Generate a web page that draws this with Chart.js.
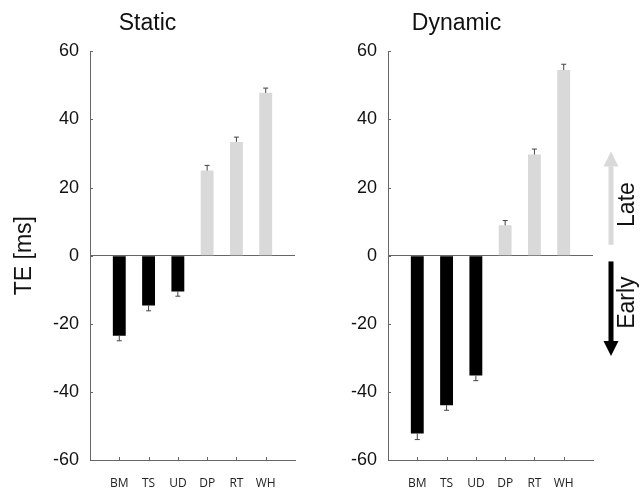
<!DOCTYPE html>
<html>
<head>
<meta charset="utf-8">
<script src="https://cdn.jsdelivr.net/npm/chart.js@4.4.1/dist/chart.umd.min.js"></script>
<style>
  body { margin: 0; background: #fff; }
  #wrap { position: relative; width: 641px; height: 490px; }
  .box { position: absolute; top: 0; height: 490px; }
</style>
</head>
<body>
<div id="wrap">
  <div class="box" style="left:0;width:320px"><canvas id="chart-static"></canvas></div>
  <div class="box" style="left:320px;width:321px"><canvas id="chart-dynamic"></canvas></div>
</div>
<script>
// data
var categories = ['BM', 'TS', 'UD', 'DP', 'RT', 'WH'];
var staticValues = [-23.5, -14.6, -10.5, 25.0, 33.4, 47.8];
var staticErrors = [1.5, 1.6, 1.4, 1.5, 1.4, 1.4];
var dynamicValues = [-52.2, -43.9, -35.2, 8.9, 29.7, 54.5];
var dynamicErrors = [1.8, 1.5, 1.5, 1.4, 1.6, 1.7];
var yTicks = [-60, -40, -20, 0, 20, 40, 60];
// arrow annotation (y values)
var lateArrow = [3.2, 30.6];
var earlyArrow = [-1.7, -29.5];

var axisColor = '#666';
var sans = "'Liberation Sans', Arial, sans-serif";

// empty slots at both ends so the category spacing matches the figure
var labels = [''].concat(categories, ['']);
function pad(arr) { return [null].concat(arr, [null]); }
function barColors() {
  return labels.map(function (l, i) { return i >= 1 && i <= 3 ? '#000' : '#d9d9d9'; });
}

// error bars (outward side only) and inward tick marks
var extras = {
  id: 'extras',
  afterDatasetsDraw: function (chart) {
    var ctx = chart.ctx;
    var y = chart.scales.y, x = chart.scales.x;
    var errs = chart.options.plugins.extras.errors;
    var meta = chart.getDatasetMeta(0);
    var vals = chart.data.datasets[0].data;
    ctx.save();
    ctx.strokeStyle = '#444';
    ctx.lineWidth = 1;
    meta.data.forEach(function (bar, i) {
      var v = vals[i];
      if (v === null) return;
      var e = errs[i - 1];
      var end = v < 0 ? v - e : v + e;
      var py0 = y.getPixelForValue(v), py1 = y.getPixelForValue(end);
      ctx.beginPath();
      ctx.moveTo(bar.x, py0);
      ctx.lineTo(bar.x, py1);
      ctx.moveTo(bar.x - 2.5, py1);
      ctx.lineTo(bar.x + 2.5, py1);
      ctx.stroke();
    });
    // inward ticks
    ctx.strokeStyle = axisColor;
    var area = chart.chartArea;
    yTicks.forEach(function (t) {
      var py = Math.round(y.getPixelForValue(t)) + 0.5;
      ctx.beginPath();
      ctx.moveTo(area.left, py);
      ctx.lineTo(area.left + 3, py);
      ctx.stroke();
    });
    categories.forEach(function (c) {
      var px = Math.round(x.getPixelForValue(c)) + 0.5;
      ctx.beginPath();
      ctx.moveTo(px, area.bottom);
      ctx.lineTo(px, area.bottom - 3);
      ctx.stroke();
    });
    ctx.restore();
  }
};

// Late / Early arrows beside the dynamic panel
var arrows = {
  id: 'arrows',
  afterDraw: function (chart) {
    var ctx = chart.ctx, y = chart.scales.y;
    var ax = chart.chartArea.right + 18;
    function arrow(from, to, color) {
      var p0 = y.getPixelForValue(from), p1 = y.getPixelForValue(to);
      var dir = p1 < p0 ? -1 : 1;
      var headBase = p1 - dir * 15;
      ctx.fillStyle = color;
      ctx.fillRect(ax - 2.5, Math.min(p0, headBase), 5, Math.abs(headBase - p0));
      ctx.beginPath();
      ctx.moveTo(ax - 7.5, headBase);
      ctx.lineTo(ax + 7.5, headBase);
      ctx.lineTo(ax, p1);
      ctx.closePath();
      ctx.fill();
    }
    ctx.save();
    arrow(lateArrow[0], lateArrow[1], '#d9d9d9');
    arrow(earlyArrow[0], earlyArrow[1], '#000');
    ctx.fillStyle = '#111';
    ctx.font = '23px ' + sans;
    ctx.textAlign = 'center';
    ctx.textBaseline = 'middle';
    [['Late', 15], ['Early', -13.8]].forEach(function (t) {
      ctx.save();
      ctx.translate(chart.chartArea.right + 35, y.getPixelForValue(t[1]));
      ctx.rotate(-Math.PI / 2);
      ctx.fillText(t[0], 0, 0);
      ctx.restore();
    });
    ctx.restore();
  }
};

function makeChart(id, title, values, errors, yWidth, padRight, showYTitle, plugins) {
  return new Chart(document.getElementById(id), {
    type: 'bar',
    data: {
      labels: labels,
      datasets: [{
        data: pad(values),
        backgroundColor: barColors(),
        borderWidth: 0,
        barPercentage: 0.44,
        categoryPercentage: 1
      }]
    },
    options: {
      responsive: true,
      maintainAspectRatio: false,
      animation: false,
      layout: { padding: { left: 0, right: padRight, top: 0, bottom: 0 } },
      plugins: {
        legend: { display: false },
        tooltip: { enabled: false },
        title: {
          display: true,
          text: title,
          color: '#111',
          font: { size: 23, family: sans, weight: 'normal', lineHeight: 1.2 },
          padding: { top: 9.7, bottom: 14 }
        },
        extras: { errors: errors }
      },
      scales: {
        x: {
          offset: false,
          afterFit: function (s) { s.height = 30; },
          grid: { display: false, drawTicks: false },
          border: { display: true, color: axisColor, width: 1 },
          ticks: {
            color: '#222',
            padding: 16,
            autoSkip: false,
            maxRotation: 0,
            font: { size: 12, family: "'Open Sans', sans-serif" }
          }
        },
        y: {
          min: -60,
          max: 60,
          afterFit: function (s) { s.width = yWidth; },
          afterBuildTicks: function (s) { s.ticks = yTicks.map(function (v) { return { value: v }; }); },
          grid: {
            drawTicks: false,
            color: function (c) { return c.tick && c.tick.value === 0 ? axisColor : 'transparent'; },
            lineWidth: 1
          },
          border: { display: true, color: axisColor, width: 1 },
          ticks: {
            color: '#111',
            padding: 11,
            font: { size: 18, family: sans }
          },
          title: {
            display: showYTitle,
            text: 'TE [ms]',
            color: '#111',
            font: { size: 23, family: sans, lineHeight: 1.2 },
            padding: { top: 11, bottom: 0 }
          }
        }
      }
    },
    plugins: plugins
  });
}

makeChart('chart-static', 'Static', staticValues, staticErrors, 90, 25, true, [extras]);
makeChart('chart-dynamic', 'Dynamic', dynamicValues, dynamicErrors, 68, 48, false, [extras, arrows]);
</script>
</body>
</html>
